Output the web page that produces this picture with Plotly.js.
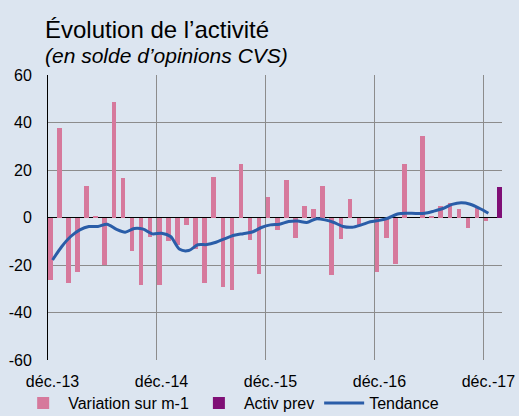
<!DOCTYPE html>
<html>
<head>
<meta charset="utf-8">
<script src="https://cdn.plot.ly/plotly-3.0.1.min.js"></script>
<style>
html,body{margin:0;padding:0;background:#dce5f0;}
#chart{width:519px;height:416px;}
</style>
</head>
<body>
<div id="chart"></div>
<script>
// Categories: months from déc.-13 to janv.-18
const months = [
  "déc.-13",
  "janv.-14","févr.-14","mars-14","avr.-14","mai-14","juin-14","juil.-14","août-14","sept.-14","oct.-14","nov.-14","déc.-14",
  "janv.-15","févr.-15","mars-15","avr.-15","mai-15","juin-15","juil.-15","août-15","sept.-15","oct.-15","nov.-15","déc.-15",
  "janv.-16","févr.-16","mars-16","avr.-16","mai-16","juin-16","juil.-16","août-16","sept.-16","oct.-16","nov.-16","déc.-16",
  "janv.-17","févr.-17","mars-17","avr.-17","mai-17","juin-17","juil.-17","août-17","sept.-17","oct.-17","nov.-17","déc.-17",
  "janv.-18"
];

// Variation sur m-1 (déc.-13 .. déc.-17)
const variation = [
  -26.3,
  37.6, -27.7, -23.0, 13.1, 0.8, -20.1, 48.5, 16.6, -14.1, -28.5, -8.0, -28.5,
  -10.1, -11.5, -3.1, -13.4, -27.7, 17.2, -29.2, -30.6, 22.7, -9.4, -23.7, 8.5,
  -5.2, 15.9, -8.5, 4.9, 3.5, 13.1, -24.2, -9.2, 7.6, -3.1, 0.0, -22.8,
  -8.6, -19.6, 22.5, 0.0, 34.2, 0.8, 4.9, 6.2, 3.7, -4.6, 4.2, -1.3
];

// Activ prev (janv.-18)
const activPrevMonths = ["janv.-18"];
const activPrev = [13.0];

// Tendance (déc.-13 .. déc.-17)
const tendance = [
  -17.9,
  -12.3, -8.0, -5.2, -3.8, -3.8, -2.8, -4.9, -6.2, -4.6, -4.9, -6.9, -6.6,
  -8.0, -13.4, -13.9, -11.5, -11.4, -10.4, -8.9, -7.5, -6.8, -6.1, -4.2, -3.1,
  -2.8, -1.7, -1.5, -2.1, -0.6, -1.0, -2.1, -3.8, -4.1, -3.1, -1.8, -1.2,
  -0.2, 1.5, 1.8, 1.7, 1.8, 2.7, 3.8, 5.5, 6.2, 5.6, 3.9, 1.8
];

const yTickVals = [-60, -40, -20, 0, 20, 40, 60];
const yTickText = ["-60", "-40", "-20", "0", "20", "40", "60"];

const FONT = "Liberation Sans, Arial, sans-serif";

const traces = [
  {
    type: "bar",
    name: "Variation sur m-1",
    x: months.slice(0, variation.length),
    y: variation,
    offsetgroup: "a",
    marker: {color: "#d6799c"},
    hoverinfo: "skip"
  },
  {
    type: "bar",
    name: "Activ prev",
    x: activPrevMonths,
    y: activPrev,
    offsetgroup: "b",
    marker: {color: "#7f0f76"},
    hoverinfo: "skip"
  },
  {
    type: "scatter",
    mode: "lines",
    name: "Tendance",
    x: months.slice(0, tendance.length),
    y: tendance,
    line: {color: "#2a5da8", width: 3, shape: "spline", smoothing: 0.8},
    hoverinfo: "skip"
  }
];

const layout = {
  width: 519,
  height: 416,
  paper_bgcolor: "#dce5f0",
  plot_bgcolor: "#dce5f0",
  margin: {l: 48, r: 17, t: 75, b: 56, autoexpand: false},
  font: {family: FONT, size: 16, color: "#000000"},
  barmode: "group",
  bargap: 0,
  bargroupgap: 0,
  showlegend: true,
  legend: {
    orientation: "h",
    xref: "container",
    yref: "container",
    x: 0.035,
    xanchor: "left",
    y: 0.072,
    yanchor: "top",
    font: {family: FONT, size: 16, color: "#000000"},
    bgcolor: "rgba(0,0,0,0)",
    itemwidth: 40
  },
  xaxis: {
    type: "category",
    categoryorder: "array",
    categoryarray: months,
    range: [-0.5, months.length - 0.5],
    tickmode: "linear",
    tick0: 0,
    dtick: 12,
    tickson: "boundaries",
    ticks: "",
    showgrid: true,
    gridcolor: "#8c8c8c",
    gridwidth: 1,
    zeroline: false,
    showline: false,
    automargin: false,
    ticklabelstandoff: 10,
    tickangle: 0,
    tickfont: {family: FONT, size: 16, color: "#000000"}
  },
  yaxis: {
    range: [-60, 60],
    tickmode: "array",
    tickvals: yTickVals,
    ticktext: yTickText,
    showgrid: true,
    gridcolor: "#8c8c8c",
    gridwidth: 1,
    zeroline: true,
    zerolinecolor: "#000000",
    zerolinewidth: 1.5,
    showline: true,
    linecolor: "#000000",
    linewidth: 1,
    automargin: false,
    ticks: "",
    ticklabelstandoff: 12,
    tickfont: {family: FONT, size: 16, color: "#000000"}
  },
  annotations: [
    {
      text: "Évolution de l’activité",
      xref: "paper", yref: "paper",
      x: -0.01, y: 1.16,
      xanchor: "left", yanchor: "middle",
      showarrow: false,
      font: {family: FONT, size: 24, color: "#000000"}
    },
    {
      text: "<i>(en solde d’opinions CVS)</i>",
      xref: "paper", yref: "paper",
      x: -0.01, y: 1.07,
      xanchor: "left", yanchor: "middle",
      showarrow: false,
      font: {family: FONT, size: 21, color: "#000000"}
    }
  ]
};

Plotly.newPlot("chart", traces, layout, {displayModeBar: false, staticPlot: true});
</script>
</body>
</html>
